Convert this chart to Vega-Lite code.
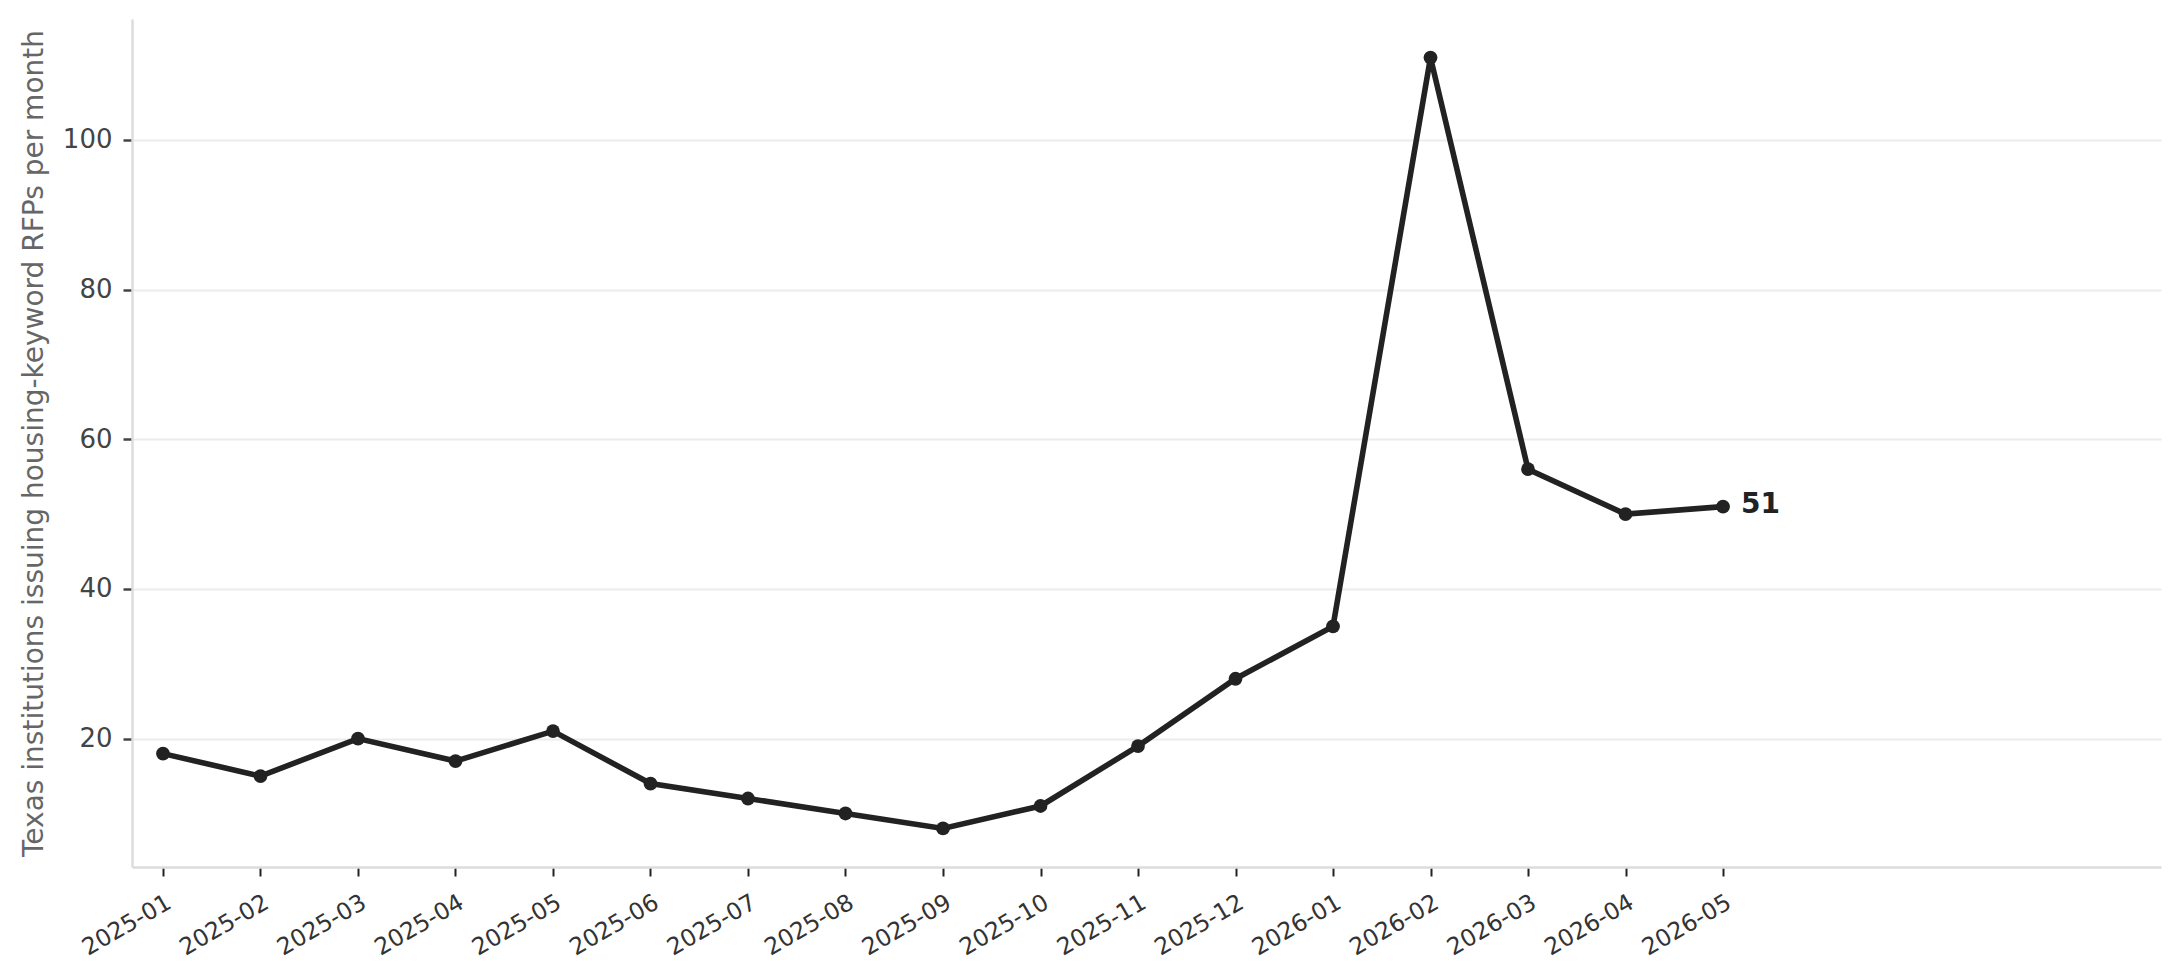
{
  "$schema": "https://vega.github.io/schema/vega-lite/v6.json",
  "autosize": {"type": "none"},
  "width": 2029,
  "height": 848,
  "padding": {"left": 132, "top": 19, "right": 18, "bottom": 113},
  "background": "#ffffff",
  "data": {
    "values": [
      {"month": "2025-01", "count": 18},
      {"month": "2025-02", "count": 15},
      {"month": "2025-03", "count": 20},
      {"month": "2025-04", "count": 17},
      {"month": "2025-05", "count": 21},
      {"month": "2025-06", "count": 14},
      {"month": "2025-07", "count": 12},
      {"month": "2025-08", "count": 10},
      {"month": "2025-09", "count": 8},
      {"month": "2025-10", "count": 11},
      {"month": "2025-11", "count": 19},
      {"month": "2025-12", "count": 28},
      {"month": "2026-01", "count": 35},
      {"month": "2026-02", "count": 111},
      {"month": "2026-03", "count": 56},
      {"month": "2026-04", "count": 50},
      {"month": "2026-05", "count": 51}
    ]
  },
  "encoding": {
    "x": {
      "field": "month",
      "type": "ordinal",
      "sort": null,
      "scale": {
        "type": "point",
        "domain": ["2025-01", "2025-02", "2025-03", "2025-04", "2025-05", "2025-06", "2025-07", "2025-08", "2025-09", "2025-10", "2025-11", "2025-12", "2026-01", "2026-02", "2026-03", "2026-04", "2026-05", "2026-06", "2026-07", "2026-08"],
        "padding": 0.905,
        "align": 0.1756
      },
      "axis": {
        "title": null,
        "values": ["2025-01", "2025-02", "2025-03", "2025-04", "2025-05", "2025-06", "2025-07", "2025-08", "2025-09", "2025-10", "2025-11", "2025-12", "2026-01", "2026-02", "2026-03", "2026-04", "2026-05"],
        "labelAngle": -30,
        "labelAlign": "right",
        "labelBaseline": "top",
        "labelDx": -6,
        "labelPadding": 14,
        "labelFontSize": 23.5,
        "labelColor": "#333333",
        "tickSize": 9,
        "tickWidth": 2,
        "tickColor": "#222222",
        "domainColor": "#dcdcdc",
        "domainWidth": 2.5,
        "grid": false
      }
    },
    "y": {
      "field": "count",
      "type": "quantitative",
      "scale": {"domain": [2.85, 116.15], "nice": false, "zero": false},
      "axis": {
        "title": "Texas institutions issuing housing-keyword RFPs per month",
        "titleFontSize": 28,
        "titleFontWeight": "normal",
        "titleColor": "#666666",
        "titlePadding": 14,
        "values": [20, 40, 60, 80, 100],
        "labelFontSize": 26,
        "labelColor": "#444444",
        "labelPadding": 11,
        "tickSize": 9,
        "tickWidth": 2.5,
        "tickColor": "#444444",
        "domainColor": "#dcdcdc",
        "domainWidth": 2.5,
        "grid": true,
        "gridColor": "#ececec",
        "gridWidth": 2
      }
    }
  },
  "layer": [
    {
      "mark": {"type": "line", "color": "#222222", "strokeWidth": 5.6}
    },
    {
      "mark": {"type": "point", "filled": true, "color": "#222222", "opacity": 1, "size": 190}
    },
    {
      "transform": [{"filter": "datum.month == '2026-05'"}],
      "mark": {
        "type": "text",
        "align": "left",
        "baseline": "middle",
        "dx": 18,
        "dy": -2,
        "fontSize": 28,
        "fontWeight": "bold",
        "color": "#222222"
      },
      "encoding": {"text": {"field": "count", "type": "quantitative"}}
    }
  ],
  "config": {
    "font": "DejaVu Sans",
    "view": {"stroke": null}
  }
}
